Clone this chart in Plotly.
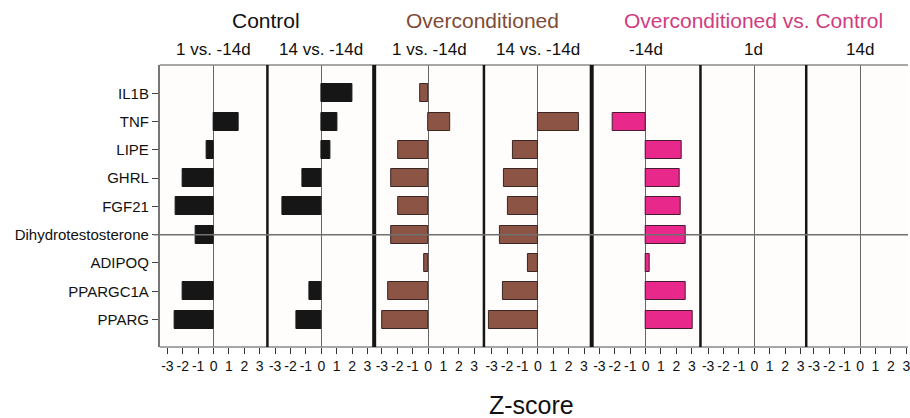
import plotly.graph_objects as go

# Row labels (top to bottom)
genes = ["IL1B", "TNF", "LIPE", "GHRL", "FGF21", "Dihydrotestosterone",
         "ADIPOQ", "PPARGC1A", "PPARG"]

# Column headers
groups = ["Control", "Overconditioned", "Overconditioned vs. Control"]
contrasts = ["1 vs. -14d", "14 vs. -14d", "1 vs. -14d", "14 vs. -14d",
             "-14d", "1d", "14d"]

# Z-scores per contrast (None = not significant / not shown)
control_1 = [None, 1.63, -0.43, -2.0, -2.46, -1.15, None, -2.0, -2.55]
control_14 = [2.03, 1.02, 0.59, -1.22, -2.5, None, None, -0.76, -1.59]
over_1 = [-0.52, 1.42, -1.96, -2.42, -1.96, -2.42, -0.28, -2.61, -3.0]
over_14 = [None, 2.64, -1.63, -2.2, -1.94, -2.44, -0.67, -2.24, -3.2]
ovc_m14 = [None, -2.11, 2.35, 2.2, 2.27, 2.59, 0.26, 2.59, 3.05]
ovc_1 = [None] * 9
ovc_14 = [None] * 9

x_ticks = [-3, -2, -1, 0, 1, 2, 3]

W, H = 910, 418
FONT = "Arial, Liberation Sans, sans-serif"

series = [control_1, control_14, over_1, over_14, ovc_m14, ovc_1, ovc_14]
fills = ["#161616", "#161616", "#8c5444", "#8c5444", "#e8288a", "#e8288a", "#e8288a"]
outlines = ["#161616", "#161616", "#3a2622", "#3a2622", "#4a1a30", "#4a1a30", "#4a1a30"]

# panel edges in pixels
edges = [160, 268, 375, 485, 593, 702, 808, 916]
px_per_unit = 108 / 7.0
plot_top, plot_bot = 65, 347

def px(x):
    return x / W

def py(y):
    return 1 - y / H

fig = go.Figure()
ypos = list(range(len(genes)))

for i, vals in enumerate(series):
    axname = "x" if i == 0 else f"x{i + 1}"
    fig.add_trace(go.Bar(
        x=vals, y=ypos, orientation="h", width=0.64,
        marker=dict(color=fills[i], line=dict(color=outlines[i], width=1)),
        xaxis=axname, yaxis="y", showlegend=False,
        hovertemplate="%{x}<extra></extra>",
    ))

layout = dict(
    width=W, height=H,
    margin=dict(l=0, r=0, t=0, b=0),
    paper_bgcolor="white",
    plot_bgcolor="#fefdfb",
    bargap=0,
    font=dict(family=FONT, color="#111"),
    yaxis=dict(
        domain=[py(plot_bot), py(plot_top)],
        range=[8.97, -1.0],
        tickvals=ypos, ticktext=genes,
        ticks="outside", ticklen=6, tickcolor="#444", tickwidth=1,
        showline=True, linecolor="#777", linewidth=1.5,
        showgrid=False, zeroline=False,
        tickfont=dict(size=15, color="#111"),
        anchor="x",
    ),
)

for i in range(7):
    left, right = edges[i], min(edges[i + 1], W)
    hi = -3.5 + (right - left) / px_per_unit
    key = "xaxis" if i == 0 else f"xaxis{i + 1}"
    layout[key] = dict(
        domain=[px(left), px(right)],
        range=[-3.5, hi],
        anchor="y",
        tickvals=x_ticks, ticktext=[str(t) for t in x_ticks],
        ticks="outside", ticklen=6, tickcolor="#333", tickwidth=1,
        ticklabeloverflow="allow",
        showgrid=False,
        zeroline=True, zerolinecolor="#666", zerolinewidth=1,
        showline=False,
        tickfont=dict(size=14, color="#111"),
    )

fig.update_layout(**layout)

shapes = []
# outer frame (top / bottom)
for yv in (plot_top, plot_bot):
    shapes.append(dict(type="line", xref="paper", yref="paper",
                       x0=px(160), x1=1, y0=py(yv), y1=py(yv),
                       line=dict(color="#8a8a8a", width=1.5)))
# panel dividers
div_w = {268: 2.5, 375: 4, 485: 2.5, 593: 4, 702: 2.5, 808: 2.5}
for xv, wv in div_w.items():
    shapes.append(dict(type="line", xref="paper", yref="paper",
                       x0=px(xv), x1=px(xv), y0=py(plot_bot), y1=py(plot_top),
                       line=dict(color="#151515", width=wv)))
# reference line at the hormone row
shapes.append(dict(type="line", xref="paper", yref="y",
                   x0=px(154), x1=1, y0=5, y1=5,
                   line=dict(color="#707070", width=1.5)))
fig.update_layout(shapes=shapes)

annotations = []
group_centers = [267, 484, 755]
group_colors = ["#111111", "#7d4c36", "#cf3d7f"]
for g, cx, col in zip(groups, group_centers, group_colors):
    annotations.append(dict(text=g, x=px(cx), y=py(21), xref="paper", yref="paper",
                            showarrow=False, xanchor="center", yanchor="middle",
                            font=dict(size=21, color=col, family=FONT)))
zero_px = [214, 321.5, 430, 539, 647.5, 755, 862]
for c, cx in zip(contrasts, zero_px):
    annotations.append(dict(text=c, x=px(cx), y=py(49), xref="paper", yref="paper",
                            showarrow=False, xanchor="center", yanchor="middle",
                            font=dict(size=17, color="#111", family=FONT)))
annotations.append(dict(text="Z-score", x=px(533), y=py(405), xref="paper", yref="paper",
                        showarrow=False, xanchor="center", yanchor="middle",
                        font=dict(size=25, color="#111", family=FONT)))
fig.update_layout(annotations=annotations)

fig.write_html("out.html")
